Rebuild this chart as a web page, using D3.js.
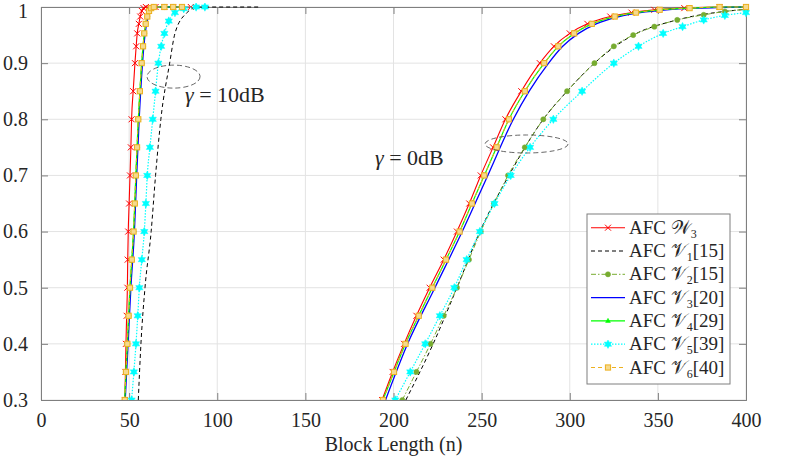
<!DOCTYPE html>
<html><head><meta charset="utf-8">
<script src="https://cdn.jsdelivr.net/npm/d3@7"></script>
<style>
html,body{margin:0;padding:0;background:#fff;}
svg text{font-family:"Liberation Serif","DejaVu Serif",serif;fill:#262626;}
</style></head>
<body><svg id="c" width="789" height="461"></svg>
<script>
// ---- data (block length n, probability) ----
const xTicks = [0,50,100,150,200,250,300,350,400];
const yTicks = [0.3,0.4,0.5,0.6,0.7,0.8,0.9,1];

const W3_10dB = [[47.6,0.3],[47.9,0.35],[48.2,0.4],[48.6,0.45],[49,0.5],[49.2,0.55],[49.5,0.6],[50,0.65],[50.5,0.7],[51,0.75],[51.4,0.8],[52.3,0.85],[53.3,0.9],[54,0.93],[54.6,0.953],[55.5,0.97],[56.3,0.983],[57.2,0.993],[58.2,0.998],[59.5,1],[65,1],[70,1],[75,1],[80,1],[85,1]];
const W3_0dB = [[193.5,0.3],[199.5,0.35],[206,0.4],[213,0.45],[220.5,0.5],[228.5,0.55],[236,0.6],[243,0.65],[249.5,0.7],[256.5,0.75],[263.5,0.8],[272.5,0.85],[283,0.9],[291,0.93],[300,0.953],[310,0.97],[323,0.983],[335,0.99],[348,0.995],[365,0.998],[385,1],[400,1]];

const V1_10dB = [[55.2,0.3],[56.7,0.4],[59,0.5],[62.5,0.6],[65,0.7],[68,0.8],[73,0.9],[76,0.953],[82.5,0.989],[89,1],[124,1]];
const V1_0dB = [[207,0.3],[222.5,0.4],[236,0.5],[249,0.6],[265.5,0.7],[285,0.8],[298.5,0.85],[314,0.9],[336,0.95],[361,0.977],[400,0.996]];

const V2_10dB = [[47.5,0.3],[48.2,0.35],[49,0.4],[49.7,0.45],[50.5,0.5],[51.5,0.55],[52.5,0.6],[53.2,0.65],[53.8,0.7],[54.5,0.75],[55.2,0.8],[56.1,0.85],[57.1,0.9],[57.9,0.93],[58.6,0.953],[59.4,0.97],[60.3,0.983],[61.3,0.993],[62.5,0.998],[64,1],[70,1],[75,1],[80,1]];
const V2_0dB = [[205,0.3],[213,0.35],[221,0.4],[228.5,0.45],[236,0.5],[242.8,0.55],[249.5,0.6],[257,0.65],[265,0.7],[274.5,0.75],[285,0.8],[298.5,0.85],[314,0.9],[325,0.93],[336,0.95],[348,0.965],[361,0.977],[376,0.986],[388,0.992],[400,0.996]];

const V3_10dB = [[47.8,0.3],[49.4,0.4],[51,0.5],[53,0.6],[54.3,0.7],[55.7,0.8],[57.6,0.9],[59.1,0.953],[60.8,0.983],[62.9,0.998],[64.5,1],[80,1]];
const V3_0dB = [[195.5,0.3],[208,0.4],[223.5,0.5],[239,0.6],[253.5,0.7],[268,0.8],[277,0.85],[288,0.9],[296,0.93],[305,0.953],[315,0.97],[328,0.983],[340,0.99],[355,0.995],[372,0.998],[400,1]];

const V4_10dB = [[47.5,0.3],[48.2,0.35],[49,0.4],[49.7,0.45],[50.5,0.5],[51.5,0.55],[52.5,0.6],[53.2,0.65],[53.8,0.7],[54.5,0.75],[55.2,0.8],[56.1,0.85],[57.1,0.9],[57.9,0.93],[58.6,0.953],[59.4,0.97],[60.3,0.983],[61.3,0.993],[62.5,0.998],[64,1],[70,1],[75,1],[80,1]];
const V4_0dB = [[194,0.3],[200.3,0.35],[206.8,0.4],[214.3,0.45],[222,0.5],[229.8,0.55],[237.5,0.6],[244.5,0.65],[251.5,0.7],[258.5,0.75],[265.5,0.8],[274.5,0.85],[285.5,0.9],[293.5,0.93],[302.5,0.953],[312.5,0.97],[325.5,0.983],[337.5,0.99],[351,0.995],[368,0.998],[385,1],[400,1]];

const V5_10dB = [[51.4,0.3],[52.7,0.35],[53.9,0.4],[54.9,0.45],[55.8,0.5],[57.2,0.55],[58.6,0.6],[59.5,0.65],[60.3,0.7],[61.8,0.75],[63.4,0.8],[65,0.85],[66.6,0.9],[68.2,0.93],[70,0.953],[72.5,0.975],[76,0.99],[81,0.997],[88,1],[93,1]];
const V5_0dB = [[201,0.3],[209.5,0.35],[218,0.4],[226.3,0.45],[234.5,0.5],[241.5,0.55],[249,0.6],[257.3,0.65],[266.5,0.7],[277.5,0.75],[290.7,0.8],[307,0.85],[325,0.9],[339,0.93],[353,0.953],[364,0.965],[376,0.977],[388,0.985],[400,0.99]];

const V6_10dB = [[47.5,0.3],[48.2,0.35],[49,0.4],[49.7,0.45],[50.5,0.5],[51.5,0.55],[52.5,0.6],[53.2,0.65],[53.8,0.7],[54.5,0.75],[55.2,0.8],[56.1,0.85],[57.1,0.9],[57.9,0.93],[58.6,0.953],[59.4,0.97],[60.3,0.983],[61.3,0.993],[62.5,0.998],[64,1],[70,1],[75,1],[80,1]];
const V6_0dB = [[194,0.3],[200.3,0.35],[206.8,0.4],[214.3,0.45],[222,0.5],[229.8,0.55],[237.5,0.6],[244.5,0.65],[251.5,0.7],[258.5,0.75],[265.5,0.8],[274.5,0.85],[285.5,0.9],[293.5,0.93],[302.5,0.953],[312.5,0.97],[325.5,0.983],[337.5,0.99],[351,0.995],[368,0.998],[385,1],[400,1]];

const legendNames = [["W","3",""],["V","1","[15]"],["V","2","[15]"],["V","3","[20]"],["V","4","[29]"],["V","5","[39]"],["V","6","[40]"]];

// ---- styles ----
const series = [
  {data:[W3_10dB,W3_0dB], color:"#ff0000", dash:null, w:1.1, marker:"x"},
  {data:[V1_10dB,V1_0dB], color:"#000000", dash:"4,3", w:1, marker:null},
  {data:[V2_10dB,V2_0dB], color:"#77ac30", dash:"5,2,1.5,2", w:1, marker:"circle"},
  {data:[V3_10dB,V3_0dB], color:"#0000ff", dash:null, w:1.3, marker:null},
  {data:[V4_10dB,V4_0dB], color:"#00ff00", dash:null, w:1.2, marker:"tri"},
  {data:[V5_10dB,V5_0dB], color:"#00ffff", dash:"1.5,1.5", w:1.2, marker:"hex"},
  {data:[V6_10dB,V6_0dB], color:"#edb120", dash:"4,3", w:1, marker:"square"}
];

const svg = d3.select("#c");
const L=41,R=746,T=7,B=400;
const x = d3.scaleLinear().domain([0,400]).range([L,R]);
const y = d3.scaleLinear().domain([0.3,1]).range([B,T]);

// grid
const g = svg.append("g");
g.selectAll(".gx").data(xTicks).join("line").attr("x1",d=>x(d)).attr("x2",d=>x(d)).attr("y1",T).attr("y2",B).attr("stroke","#e3e3e3").attr("stroke-width",1);
g.selectAll(".gy").data(yTicks).join("line").attr("y1",d=>y(d)).attr("y2",d=>y(d)).attr("x1",L).attr("x2",R).attr("stroke","#e3e3e3").attr("stroke-width",1);

// axes
const tl = 7;
const axB = svg.append("g").attr("transform",`translate(0,${B})`).call(d3.axisBottom(x).tickValues(xTicks).tickSize(-tl).tickPadding(tl+6).tickFormat(d3.format("d")));
const axT = svg.append("g").attr("transform",`translate(0,${T})`).call(d3.axisTop(x).tickValues(xTicks).tickSize(-tl).tickFormat(""));
const axL = svg.append("g").attr("transform",`translate(${L},0)`).call(d3.axisLeft(y).tickValues(yTicks).tickSize(-tl).tickPadding(tl+6).tickFormat(d=>d===1?"1":d3.format(".1f")(d)));
const axR = svg.append("g").attr("transform",`translate(${R},0)`).call(d3.axisRight(y).tickValues(yTicks).tickSize(-tl).tickFormat(""));
[axB,axT,axL,axR].forEach(a=>{a.select(".domain").attr("stroke","#7f7f7f");a.selectAll(".tick line").attr("stroke","#7f7f7f");a.selectAll("text").attr("font-size",20).attr("font-family","Liberation Serif").attr("fill","#262626");});
axB.selectAll(".tick text").attr("dy","0.71em");
axL.selectAll(".tick text").filter(d=>d===1).attr("dy","0.5em");

svg.append("text").attr("x",(L+R)/2).attr("y",451).attr("text-anchor","middle").attr("font-size",20).text("Block Length (n)");

// clip
svg.append("clipPath").attr("id","clip").append("rect").attr("x",L).attr("y",T-4).attr("width",R-L+4).attr("height",B-T+4);
const plot = svg.append("g").attr("clip-path","url(#clip)");

const line = d3.line().x(d=>x(d[0])).y(d=>y(d[1])).curve(d3.curveMonotoneX);

function hexPath(r){
  let p="";
  for(let i=0;i<12;i++){const a=-Math.PI/2+i*Math.PI/6;const rr=i%2===0?r:r*0.55;p+=(i?"L":"M")+(rr*Math.cos(a)).toFixed(2)+","+(rr*Math.sin(a)).toFixed(2);}
  return p+"Z";
}
function drawMarker(sel,type,color){
  if(type==="x"){
    sel.append("path").attr("d","M-3,-3L3,3M-3,3L3,-3").attr("stroke",color).attr("stroke-width",1).attr("fill","none");
  } else if(type==="circle"){
    sel.append("circle").attr("r",2.6).attr("fill",color).attr("stroke",color).attr("stroke-width",0.5);
  } else if(type==="tri"){
    sel.append("path").attr("d","M0,-2.6L2.4,1.6L-2.4,1.6Z").attr("fill",color).attr("stroke",color).attr("stroke-width",0.5);
  } else if(type==="hex"){
    sel.append("path").attr("d",hexPath(4.2)).attr("fill",color).attr("stroke",color).attr("stroke-width",0.5);
  } else if(type==="square"){
    sel.append("rect").attr("x",-2.6).attr("y",-2.6).attr("width",5.2).attr("height",5.2).attr("fill","#f6d98d").attr("stroke",color).attr("stroke-width",1);
  }
}

series.forEach(s=>{
  const sg = plot.append("g");
  s.data.forEach(arr=>{
    sg.append("path").attr("d",line(arr)).attr("fill","none").attr("stroke",s.color).attr("stroke-width",s.w).attr("stroke-dasharray",s.dash);
    if(s.marker){
      sg.selectAll(null).data(arr).join("g").attr("transform",d=>`translate(${x(d[0])},${y(d[1])})`).each(function(){drawMarker(d3.select(this),s.marker,s.color);});
    }
  });
});

// annotations: ellipses in data coords
const ell = [{cx:75.2,cy:0.876,rx:26.5,ry:11.5},{cx:275.5,cy:0.756,rx:41.5,ry:9}];
svg.selectAll(".ell").data(ell).join("ellipse").attr("cx",d=>x(d.cx)).attr("cy",d=>y(d.cy)).attr("rx",d=>d.rx).attr("ry",d=>d.ry).attr("fill","none").attr("stroke","#404040").attr("stroke-width",0.8).attr("stroke-dasharray","5,3");

function gammaLabel(px,py,val){
  const t = svg.append("text").attr("x",px).attr("y",py).attr("font-size",22);
  t.append("tspan").attr("font-style","italic").text("γ");
  t.append("tspan").text(" = "+val+"dB");
}
gammaLabel(185,102,"10");
gammaLabel(375,165,"0");

// legend
const lg = svg.append("g");
lg.append("rect").attr("x",587).attr("y",214).attr("width",143).attr("height",170).attr("fill","#fff").attr("stroke","#7f7f7f").attr("stroke-width",1);
legendNames.forEach((n,i)=>{
  const cy = 227.7 + i*23.3;
  const s = series[i];
  lg.append("line").attr("x1",591).attr("x2",625).attr("y1",cy).attr("y2",cy).attr("stroke",s.color).attr("stroke-width",s.w).attr("stroke-dasharray",s.dash);
  if(s.marker){const m=lg.append("g").attr("transform",`translate(608,${cy})`);drawMarker(m,s.marker,s.color);}
  const t = lg.append("text").attr("x",629).attr("y",cy+6).attr("font-size",19);
  t.append("tspan").text("AFC ");
  t.append("tspan").text(n[0]==="W"?"𝒲":"𝒱");
  t.append("tspan").attr("font-size",12).attr("dy",4).text(n[1]);
  t.append("tspan").attr("dy",-4).text(n[2]);
});
</script></body></html>
